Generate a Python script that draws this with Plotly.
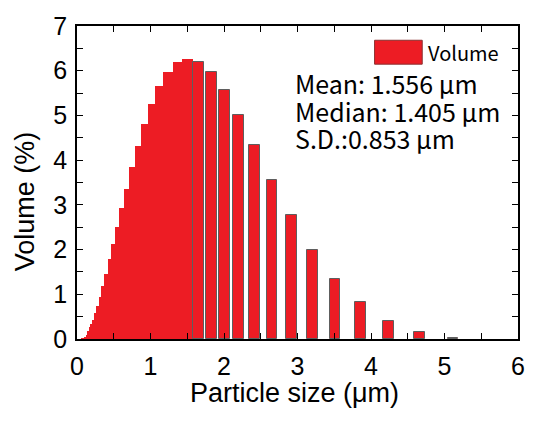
import plotly.graph_objects as go

# Contiguous (overlapping) bins, small sizes
size_small = [0.131, 0.144, 0.158, 0.174, 0.191, 0.210, 0.231, 0.253, 0.278, 0.306,
              0.336, 0.369, 0.405, 0.445, 0.489, 0.537, 0.590, 0.648, 0.711, 0.781,
              0.858, 0.943, 1.036, 1.138, 1.250, 1.373, 1.508]
vol_small = [0.005, 0.01, 0.02, 0.05, 0.10, 0.17, 0.27, 0.34, 0.43, 0.58,
             0.74, 0.95, 1.19, 1.45, 1.78, 2.12, 2.50, 2.92, 3.36, 3.84,
             4.32, 4.80, 5.26, 5.65, 5.98, 6.19, 6.27]
# Separated bins, larger sizes
size_large = [1.657, 1.827, 2.003, 2.199, 2.418, 2.652, 2.916, 3.206, 3.511, 3.859,
              4.241, 4.656, 5.115]
vol_large = [6.20, 5.98, 5.57, 5.02, 4.33, 3.56, 2.78, 2.00, 1.34, 0.82,
             0.41, 0.16, 0.03]

x_tickvals = [0, 0.5, 1, 1.5, 2, 2.5, 3, 3.5, 4, 4.5, 5, 5.5, 6]
x_ticktext = ["0", "", "1", "", "2", "", "3", "", "4", "", "5", "", "6"]
y_tickvals = [0, 0.5, 1, 1.5, 2, 2.5, 3, 3.5, 4, 4.5, 5, 5.5, 6, 6.5, 7]
y_ticktext = ["0", "", "1", "", "2", "", "3", "", "4", "", "5", "", "6", "", "7"]

stats = ["Mean: 1.556 μm", "Median: 1.405 μm", "S.D.:0.853 μm"]
legend_label = "Volume"

RED = "#ED1C24"
BAR_W = 0.147

fig = go.Figure()
fig.add_trace(go.Bar(x=size_small, y=vol_small, width=BAR_W,
                     marker=dict(color=RED, line=dict(width=0)),
                     showlegend=False))
fig.add_trace(go.Bar(x=size_large, y=vol_large, width=BAR_W,
                     marker=dict(color=RED, line=dict(width=1, color="#5e5e5e")),
                     showlegend=False))

W, H = 537, 423
L, R, T, B = 77, 525, 25, 339
pw, ph = R - L, B - T

def px(x):
    return (x - L) / pw

def py(y):
    return (B - y) / ph

axis_common = dict(showline=True, linecolor="black", linewidth=1.5, mirror="allticks",
                   ticks="inside", ticklen=6, tickwidth=1.2, tickcolor="black",
                   showgrid=False, zeroline=False,
                   tickfont=dict(family="Liberation Sans, Arial", size=25, color="black"))

fig.update_layout(
    width=W, height=H,
    margin=dict(l=L, r=W - R, t=T, b=H - B),
    paper_bgcolor="white", plot_bgcolor="white",
    barmode="overlay", bargap=0,
    xaxis=dict(range=[0, 6], tickmode="array", tickvals=x_tickvals, ticktext=x_ticktext,
               ticklabelstandoff=4, **axis_common),
    yaxis=dict(range=[0, 7], tickmode="array", tickvals=y_tickvals, ticktext=y_ticktext,
               ticklabelstandoff=3, **axis_common),
)

# Legend box drawn manually
fig.add_shape(type="rect", xref="paper", yref="paper",
              x0=px(379.3), x1=px(427.7), y0=py(63.3), y1=py(39.3),
              fillcolor=RED, line=dict(color="#8a3030", width=1))
fig.add_annotation(x=px(432), y=py(51.3), xref="paper", yref="paper",
                   text=legend_label, showarrow=False, xanchor="left", yanchor="middle",
                   font=dict(family="Noto Sans CJK KR, Noto Sans", size=20, color="black"))

for txt, yc in zip(stats, [82.5, 110.0, 137.5]):
    fig.add_annotation(x=px(296), y=py(yc), xref="paper", yref="paper",
                       text=txt, showarrow=False, xanchor="left", yanchor="middle",
                       font=dict(family="Noto Sans CJK KR, Noto Sans", size=25, color="black"))

# Axis titles
fig.add_annotation(x=px(297.5), y=py(393), xref="paper", yref="paper",
                   text="Particle size (μm)", showarrow=False, xanchor="center", yanchor="middle",
                   font=dict(family="Liberation Sans, Arial", size=27, color="black"))
fig.add_annotation(x=px(25), y=py(201), xref="paper", yref="paper",
                   text="Volume (%)", showarrow=False, xanchor="center", yanchor="middle",
                   textangle=-90,
                   font=dict(family="Liberation Sans, Arial", size=27, color="black"))

fig.write_html("out.html", config={"displayModeBar": False},
               post_script="document.body.style.margin='0';document.body.style.overflow='hidden';")
